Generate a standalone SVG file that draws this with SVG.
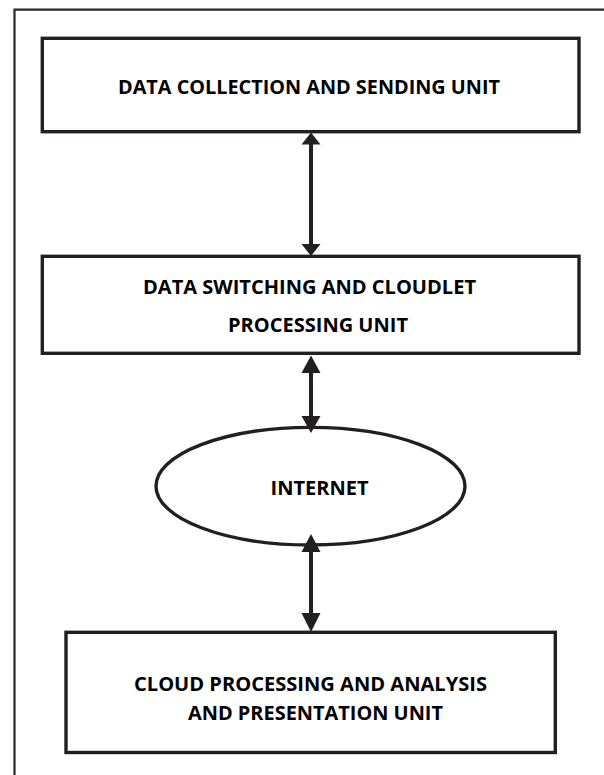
<svg xmlns="http://www.w3.org/2000/svg" width="604" height="775" viewBox="0 0 604 775">
<style>
.frame{fill:none;stroke:#2a2627;stroke-width:2.2}
.box{fill:#fff;stroke:#231f20;stroke-width:3.4}
.lbl{font-family:"Open Sans","Liberation Sans",sans-serif;font-weight:bold;font-size:20px;fill:#000;text-anchor:middle}
.shaft{stroke:#231f20;stroke-width:4}
.head{fill:#231f20}
</style>
<rect width="604" height="775" fill="#fff"/>
<path class="frame" d="M14.5,776 V9.7 H606"/>
<g id="n1">
<rect class="box" x="42.3" y="38.3" width="536.7" height="93.4"/>
<text class="lbl" x="309" y="93.5" textLength="382" lengthAdjust="spacingAndGlyphs">DATA COLLECTION AND SENDING UNIT</text>
</g>
<g id="n2">
<rect class="box" x="42.3" y="256.3" width="536.7" height="97"/>
<text class="lbl" x="309.5" y="293.5" textLength="333" lengthAdjust="spacingAndGlyphs">DATA SWITCHING AND CLOUDLET</text>
<text class="lbl" x="318" y="331.5" textLength="180" lengthAdjust="spacingAndGlyphs">PROCESSING UNIT</text>
</g>
<g id="n3">
<ellipse class="box" cx="310.5" cy="486.2" rx="154.5" ry="58.8"/>
<text class="lbl" x="319.5" y="494.5" textLength="98" lengthAdjust="spacingAndGlyphs">INTERNET</text>
</g>
<g id="n4">
<rect class="box" x="66" y="632.3" width="489.3" height="120.2"/>
<text class="lbl" x="310.5" y="690.5" textLength="353" lengthAdjust="spacingAndGlyphs">CLOUD PROCESSING AND ANALYSIS</text>
<text class="lbl" x="315.5" y="719.5" textLength="255" lengthAdjust="spacingAndGlyphs">AND PRESENTATION UNIT</text>
</g>
<g id="connectors">
<line class="shaft" x1="311" y1="140" x2="311" y2="248"/>
<polygon class="head" points="311,132.5 320.5,144.5 301.5,144.5"/>
<polygon class="head" points="311,256 320.5,244 301.5,244"/>
<line class="shaft" x1="311" y1="365" x2="311" y2="420"/>
<polygon class="head" points="311,355.5 320.5,373 301.5,373"/>
<polygon class="head" points="311,433 320.5,416 301.5,416"/>
<line class="shaft" x1="311" y1="545" x2="311" y2="620"/>
<polygon class="head" points="311,534 320.5,552 301.5,552"/>
<polygon class="head" points="311,632 320.5,613 301.5,613"/>
</g>
</svg>
